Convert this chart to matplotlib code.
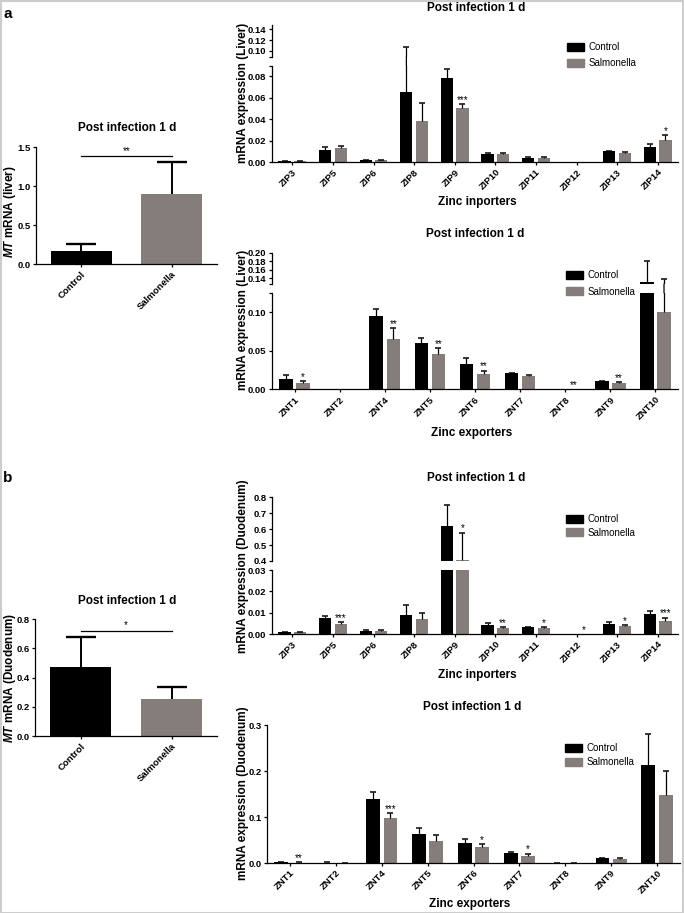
import matplotlib
matplotlib.use('Agg')
import matplotlib.pyplot as plt
from matplotlib.patches import Rectangle, ConnectionPatch, Patch
from matplotlib.ticker import FormatStrFormatter
import numpy as np

plt.rcParams['font.family'] = ['Liberation Sans', 'DejaVu Sans']
plt.rcParams['mathtext.fontset'] = 'custom'
plt.rcParams['mathtext.it'] = 'Liberation Sans:italic:bold'
plt.rcParams['mathtext.rm'] = 'Liberation Sans:bold'

# ---------------- data ----------------
groups = ['Control', 'Salmonella']

mt_liver = [0.17, 0.90]
mt_liver_sem = [0.09, 0.41]
mt_liver_sig = '**'

mt_duo = [0.471, 0.251]
mt_duo_sem = [0.208, 0.083]
mt_duo_sig = '*'

zip_genes = ['ZIP3', 'ZIP5', 'ZIP6', 'ZIP8', 'ZIP9', 'ZIP10', 'ZIP11', 'ZIP12', 'ZIP13', 'ZIP14']
znt_genes = ['ZNT1', 'ZNT2', 'ZNT4', 'ZNT5', 'ZNT6', 'ZNT7', 'ZNT8', 'ZNT9', 'ZNT10']

liver_zip_ctrl = [0.001, 0.011, 0.002, 0.0654, 0.0782, 0.0072, 0.004, 0.0, 0.010, 0.014]
liver_zip_ctrl_sem = [0.0003, 0.003, 0.0003, 0.0411, 0.0084, 0.0008, 0.001, 0.0, 0.0006, 0.0028]
liver_zip_salm = [0.001, 0.013, 0.002, 0.0383, 0.0508, 0.0078, 0.004, 0.0, 0.0087, 0.0202]
liver_zip_salm_sem = [0.0003, 0.002, 0.0003, 0.0167, 0.0034, 0.0009, 0.0004, 0.0, 0.0006, 0.0048]
liver_zip_sig = ['', '', '', '', '***', '', '', '', '', '*']

liver_znt_ctrl = [0.0135, 0.0, 0.0948, 0.0596, 0.0326, 0.0209, 0.0, 0.011, 0.131]
liver_znt_ctrl_sem = [0.0055, 0.0, 0.0092, 0.0074, 0.0074, 0.0005, 0.0, 0.0003, 0.049]
liver_znt_salm = [0.0083, 0.0, 0.065, 0.0457, 0.020, 0.0178, 0.0, 0.0083, 0.100]
liver_znt_salm_sem = [0.0021, 0.0, 0.014, 0.0073, 0.0043, 0.0009, 0.0, 0.0013, 0.038]
liver_znt_sig = ['*', '', '**', '**', '**', '', '**', '**', '']

duo_zip_ctrl = [0.0008, 0.0077, 0.0014, 0.0091, 0.622, 0.0042, 0.0033, 0.0, 0.0048, 0.0092]
duo_zip_ctrl_sem = [0.0001, 0.0007, 0.0003, 0.0043, 0.132, 0.0011, 0.0002, 0.0, 0.001, 0.0014]
duo_zip_salm = [0.0008, 0.0045, 0.0014, 0.0072, 0.404, 0.0027, 0.0027, 0.0, 0.0039, 0.0061]
duo_zip_salm_sem = [0.0001, 0.001, 0.0003, 0.0025, 0.174, 0.0004, 0.0004, 0.0, 0.0003, 0.0016]
duo_zip_sig = ['', '***', '', '', '*', '**', '*', '*', '*', '***']

duo_znt_ctrl = [0.002, 0.001, 0.1387, 0.063, 0.0436, 0.021, 0.0005, 0.010, 0.2135]
duo_znt_ctrl_sem = [0.0005, 0.0002, 0.016, 0.014, 0.008, 0.003, 0.0001, 0.0016, 0.0683]
duo_znt_salm = [0.001, 0.0005, 0.0988, 0.049, 0.0356, 0.0145, 0.0003, 0.0087, 0.148]
duo_znt_salm_sem = [0.0003, 0.0001, 0.0092, 0.013, 0.0058, 0.0055, 0.0001, 0.0023, 0.053]
duo_znt_sig = ['**', '', '***', '', '*', '*', '', '', '']

# ---------------- style ----------------
CTRL = '#000000'
SALM = '#857d7a'
W, H = 684, 913
TICK_FS = 6.8
LAB_FS = 8.5
LEG_FS = 7
STAR_FS = 7

fig = plt.figure(figsize=(W / 100, H / 100), dpi=100)


def box(l, t, r, b):
    return [l / W, 1 - b / H, (r - l) / W, (b - t) / H]


def new_ax(rect):
    ax = fig.add_axes(box(*rect))
    ax.set_facecolor('none')
    return ax


def style_ax(ax, bottom=True):
    for s in ['top', 'right']:
        ax.spines[s].set_visible(False)
    ax.spines['left'].set_linewidth(0.9)
    ax.spines['bottom'].set_linewidth(0.9)
    ax.tick_params(axis='both', which='both', direction='out', length=2.5, width=0.9,
                   labelsize=TICK_FS, pad=1.5)
    for lab in ax.get_yticklabels():
        lab.set_fontweight('bold')
    if not bottom:
        ax.spines['bottom'].set_visible(False)
        ax.tick_params(axis='x', which='both', bottom=False, labelbottom=False)


def ftext(x, y, s, **kw):
    fig.text(x / W, 1 - y / H, s, **kw)


def up_err(ax, xx, v, e, cap, lw, mask=None):
    """One-sided (upper) error bars without a cap at the bar top."""
    xx, v, e = np.asarray(xx), np.asarray(v), np.asarray(e)
    m = e > 0
    if mask is not None:
        m &= mask
    ax.vlines(xx[m], v[m], v[m] + e[m], color='black', lw=lw, zorder=3)
    ax.plot(xx[m], v[m] + e[m], ls='none', marker='_', ms=cap, mew=lw * 1.2,
            color='black', zorder=3)


def grouped_panel(axes, genes, c, cs, s, ss, sig, ylims, yticks, fmts):
    n = len(genes)
    x = np.arange(n)
    off, w = 0.19, 0.3
    series = [(x - off, np.array(c), np.array(cs), CTRL), (x + off, np.array(s), np.array(ss), SALM)]
    for k, (ax, yl, yt, fm) in enumerate(zip(axes, ylims, yticks, fmts)):
        for xx, v, e, col in series:
            ax.bar(xx, v, w, color=col, zorder=2)
            if k == 0:
                msk = v < yl[1]
            else:
                msk = v + e > yl[0]
            up_err(ax, xx, v, e, 5, 0.9, msk)
        ax.set_ylim(*yl)
        ax.set_yticks(yt)
        ax.yaxis.set_major_formatter(FormatStrFormatter(fm))
        ax.set_xlim(-0.5, n - 0.5)
    lower = axes[0]
    lower.set_xticks(x)
    lower.set_xticklabels(genes, rotation=45, ha='right', va='top', rotation_mode='anchor',
                          fontsize=TICK_FS, fontweight='bold')
    style_ax(lower)
    if len(axes) > 1:
        upper = axes[1]
        style_ax(upper, bottom=False)
        lt = lower.get_ylim()[1]
        ub = upper.get_ylim()[0]
        lower.set_yticks([lt], minor=True)
        upper.set_yticks([ub], minor=True)
        # error lines crossing the axis break
        for xx, v, e, col in series:
            for xi, vi, ei in zip(xx, v, e):
                if vi < lt and vi + ei > ub:
                    con = ConnectionPatch(xyA=(xi, lt), coordsA=lower.transData,
                                          xyB=(xi, ub), coordsB=upper.transData,
                                          color='black', lw=0.9)
                    fig.add_artist(con)
    # significance stars over Salmonella bars
    for i, st in enumerate(sig):
        if not st:
            continue
        top = s[i] + ss[i]
        ax = lower
        if len(axes) > 1 and top > lower.get_ylim()[1]:
            ax = axes[1]
        ax.annotate(st, xy=(x[i] + off, top), xytext=(0, -0.5), textcoords='offset points',
                    ha='center', va='bottom', fontsize=STAR_FS, annotation_clip=False)


def legend(ax, x, y, spacing):
    handles = [Patch(color=CTRL, label='Control'), Patch(color=SALM, label='Salmonella')]
    ax.legend(handles=handles, loc='upper left', bbox_to_anchor=(x / W, 1 - y / H),
              bbox_transform=fig.transFigure, frameon=False, borderpad=0,
              fontsize=LEG_FS, handlelength=1.75, handleheight=0.85, handletextpad=0.5,
              labelspacing=spacing, borderaxespad=0)


def mt_panel(rect, vals, sem, sig, ymax, yt, fm, sigy):
    ax = new_ax(rect)
    x = np.arange(2)
    ax.bar(x, vals, 0.67, color=[CTRL, SALM], zorder=2)
    up_err(ax, x, vals, sem, 22, 1.4)
    ax.set_xlim(-0.5, 1.5)
    ax.set_ylim(0, ymax)
    ax.set_yticks(yt)
    ax.yaxis.set_major_formatter(FormatStrFormatter(fm))
    ax.set_xticks(x)
    ax.set_xticklabels(groups, rotation=45, ha='right', va='top', rotation_mode='anchor',
                       fontsize=TICK_FS, fontweight='bold')
    style_ax(ax)
    ax.plot([0, 1], [sigy, sigy], color='black', lw=0.9, clip_on=False)
    ax.annotate(sig, xy=(0.5, sigy), xytext=(0, 0.5), textcoords='offset points',
                ha='center', va='bottom', fontsize=STAR_FS, annotation_clip=False)
    return ax


# ---------------- panel a ----------------
mt_panel((36, 147, 217, 264), mt_liver, mt_liver_sem, mt_liver_sig, 1.5,
         [0, 0.5, 1.0, 1.5], '%.1f', 1.38)
ftext(127, 128, 'Post infection 1 d', ha='center', va='center', fontsize=LAB_FS, fontweight='bold')
ftext(10, 212, r'$\mathit{MT}$ mRNA (liver)', rotation=90, ha='center', va='center',
      fontsize=LAB_FS, fontweight='bold')

lo = new_ax((272, 65.7, 678, 162))
up = new_ax((272, 25, 678, 56.7))
grouped_panel([lo, up], zip_genes, liver_zip_ctrl, liver_zip_ctrl_sem, liver_zip_salm,
              liver_zip_salm_sem, liver_zip_sig, [(0, 0.09), (0.089, 0.148)],
              [np.arange(0, 0.081, 0.02), [0.10, 0.12, 0.14]], ['%.2f', '%.2f'])
legend(lo, 567, 42.5, 0.59)
ftext(476, 8, 'Post infection 1 d', ha='center', va='center', fontsize=LAB_FS, fontweight='bold')
ftext(243, 93, 'mRNA expression (Liver)', rotation=90, ha='center', va='center',
      fontsize=LAB_FS, fontweight='bold')
ftext(477, 202, 'Zinc inporters', ha='center', va='center', fontsize=LAB_FS, fontweight='bold')

lo = new_ax((272, 293, 678, 389.3))
up = new_ax((272, 252.7, 678, 284))
grouped_panel([lo, up], znt_genes, liver_znt_ctrl, liver_znt_ctrl_sem, liver_znt_salm,
              liver_znt_salm_sem, liver_znt_sig, [(0, 0.125), (0.127, 0.20)],
              [[0, 0.05, 0.10], [0.14, 0.16, 0.18, 0.20]], ['%.2f', '%.2f'])
legend(lo, 566, 270.5, 0.62)
ftext(475, 234, 'Post infection 1 d', ha='center', va='center', fontsize=LAB_FS, fontweight='bold')
ftext(243, 320, 'mRNA expression (Liver)', rotation=90, ha='center', va='center',
      fontsize=LAB_FS, fontweight='bold')
ftext(472, 433, 'Zinc exporters', ha='center', va='center', fontsize=LAB_FS, fontweight='bold')

# ---------------- panel b ----------------
mt_panel((35, 619.3, 217, 736), mt_duo, mt_duo_sem, mt_duo_sig, 0.8,
         [0, 0.2, 0.4, 0.6, 0.8], '%.1f', 0.722)
ftext(127, 601, 'Post infection 1 d', ha='center', va='center', fontsize=LAB_FS, fontweight='bold')
ftext(10, 678, r'$\mathit{MT}$ mRNA (Duodenum)', rotation=90, ha='center', va='center',
      fontsize=LAB_FS, fontweight='bold')

lo = new_ax((272, 570, 678, 634))
up = new_ax((272, 497.3, 678, 561))
grouped_panel([lo, up], zip_genes, duo_zip_ctrl, duo_zip_ctrl_sem, duo_zip_salm,
              duo_zip_salm_sem, duo_zip_sig, [(0, 0.03), (0.4, 0.8)],
              [[0, 0.01, 0.02, 0.03], [0.4, 0.5, 0.6, 0.7, 0.8]], ['%.2f', '%.1f'])
legend(lo, 566, 514, 0.38)
ftext(476, 478, 'Post infection 1 d', ha='center', va='center', fontsize=LAB_FS, fontweight='bold')
ftext(243, 566, 'mRNA expression (Duodenum)', rotation=90, ha='center', va='center',
      fontsize=LAB_FS, fontweight='bold')
ftext(477, 675, 'Zinc inporters', ha='center', va='center', fontsize=LAB_FS, fontweight='bold')

lo = new_ax((267, 725.3, 680, 863))
grouped_panel([lo], znt_genes, duo_znt_ctrl, duo_znt_ctrl_sem, duo_znt_salm,
              duo_znt_salm_sem, duo_znt_sig, [(0, 0.3)],
              [[0, 0.1, 0.2, 0.3]], ['%.1f'])
legend(lo, 565, 743, 0.42)
ftext(472, 707, 'Post infection 1 d', ha='center', va='center', fontsize=LAB_FS, fontweight='bold')
ftext(243, 793, 'mRNA expression (Duodenum)', rotation=90, ha='center', va='center',
      fontsize=LAB_FS, fontweight='bold')
ftext(470, 904, 'Zinc exporters', ha='center', va='center', fontsize=LAB_FS, fontweight='bold')

# panel letters and frame
ftext(3, 14, 'a', ha='left', va='center', fontsize=11, fontweight='bold')
ftext(3, 478, 'b', ha='left', va='center', fontsize=11, fontweight='bold')
fig.add_artist(Rectangle((0.5 / W, 0.5 / H), 1 - 1.5 / W, 1 - 1.5 / H, transform=fig.transFigure,
                         fill=False, edgecolor='#cccccc', lw=1.5))

fig.savefig('out.png', dpi=100)
